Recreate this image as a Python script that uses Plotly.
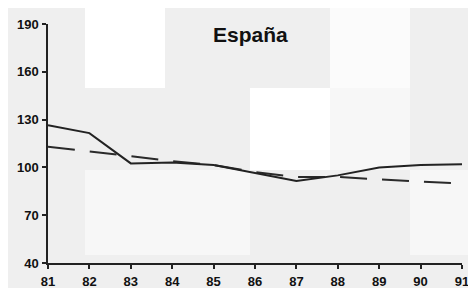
import plotly.graph_objects as go

years = ["81", "82", "83", "84", "85", "86", "87", "88", "89", "90", "91"]
solid_vals = [126.5, 121.5, 102.5, 103, 101.5, 96.5, 91.5, 95, 100, 101.5, 102]
dashed_vals = [113, 110, 107, 104, 101.5, 97, 94, 94, 92.5, 91, 90]
y_ticks = [40, 70, 100, 130, 160, 190]
title_text = "España"

xs = list(range(len(years)))

fig = go.Figure()
fig.add_trace(go.Scatter(x=xs, y=dashed_vals, mode="lines",
                         line=dict(color="#2a2a2a", width=2, dash="27px,15px"),
                         showlegend=False))
fig.add_trace(go.Scatter(x=xs, y=solid_vals, mode="lines",
                         line=dict(color="#222222", width=2),
                         showlegend=False))

# page offset by the browser's default body margin
OFF = 8
W, H = 476, 288
# plot area in window pixels
PX0, PX1, PY0, PY1 = 48, 462, 24, 263
pw, ph = PX1 - PX0, PY1 - PY0
L, T = PX0 - OFF, PY0 - OFF
R, B = W - L - pw, H - T - ph

# scan background patches (window pixel boxes)
patches = [
    (85, 165, 5, 88, "#ffffff"),
    (330, 410, 5, 88, "#fbfbfb"),
    (250, 330, 88, 170, "#ffffff"),
    (85, 250, 170, 255, "#f7f7f7"),
    (410, 476, 170, 255, "#f7f7f7"),
    (330, 410, 88, 170, "#f7f7f7"),
]
shapes = []
for x0, x1, y0, y1, c in patches:
    shapes.append(dict(type="rect", xref="paper", yref="paper",
                       x0=(x0 - PX0) / pw, x1=(x1 - PX0) / pw,
                       y0=(PY1 - y1) / ph, y1=(PY1 - y0) / ph,
                       fillcolor=c, line=dict(width=0), layer="below"))

tf = dict(family="Liberation Sans", size=13, color="#111111", weight="bold")
fig.update_layout(
    width=W, height=H,
    margin=dict(l=L, r=R, t=T, b=B),
    paper_bgcolor="#efefef", plot_bgcolor="rgba(0,0,0,0)",
    shapes=shapes,
    annotations=[dict(text=title_text, x=(250 - PX0) / pw, y=(PY1 - 34) / ph, xref="paper", yref="paper",
                      showarrow=False, xanchor="center", yanchor="middle",
                      font=dict(family="Liberation Sans", size=21, color="#111111", weight="bold"))],
    xaxis=dict(tickvals=xs, ticktext=years, range=[0, 10], showgrid=False, zeroline=False,
               showline=True, linecolor="#222222", linewidth=1.5, automargin=False,
               ticks="outside", ticklen=4, tickwidth=1.5, tickcolor="#222222",
               ticklabelstandoff=2, tickfont=tf),
    yaxis=dict(tickvals=y_ticks, range=[40, 190], showgrid=False, zeroline=False,
               showline=True, linecolor="#222222", linewidth=1.5, automargin=False,
               ticks="outside", ticklen=4, tickwidth=1.5, tickcolor="#222222",
               ticklabelstandoff=1, tickfont=tf),
)

fig.write_html("out.html")
